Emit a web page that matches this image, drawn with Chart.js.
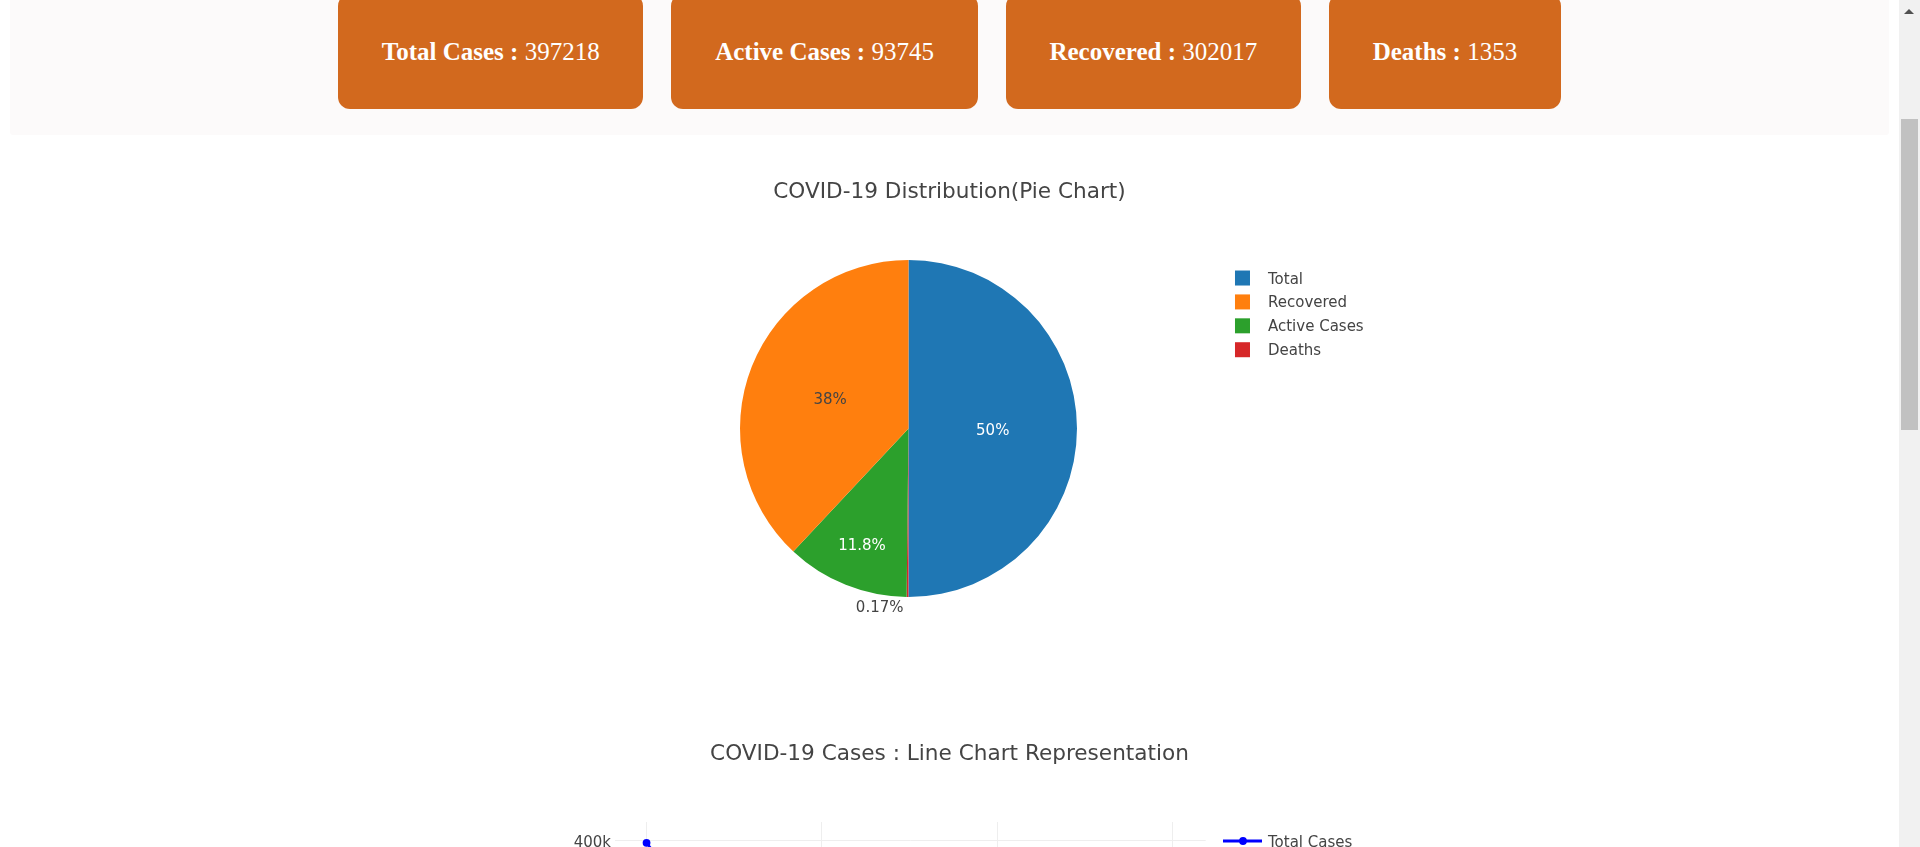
<!DOCTYPE html>
<html>
<head>
<meta charset="utf-8">
<title>COVID-19 Dashboard</title>
<script src="https://cdn.jsdelivr.net/npm/chart.js@4.4.0/dist/chart.umd.min.js"></script>
<style>
html, body { margin: 0; padding: 0; width: 1920px; height: 847px; overflow: hidden; background: #ffffff; }
#page { position: absolute; left: 0; top: 0; width: 1899px; height: 847px; overflow: hidden; background: #ffffff; }
#stats { position: absolute; left: 10px; top: 0; width: 1879px; height: 135px; background: #fcfafa; border-radius: 0 0 3px 3px; }
#boxes { position: absolute; left: 0; right: 0; top: -6.5px; display: flex; justify-content: center; gap: 28px; }
.box { box-sizing: border-box; height: 115px; padding: 2.4px 43.75px 0 43.75px; background: #d2691e; color: #ffffff; border-radius: 12px;
       display: flex; align-items: center; font-family: 'Liberation Serif', 'Times New Roman', serif; font-size: 25px; white-space: pre; }
canvas { position: absolute; display: block; }
#pie { left: 10px; top: 135px; }
#line { left: 10px; top: 697px; }
#sb { position: absolute; left: 1899px; top: 0; width: 21px; height: 847px; background: #f1f1f1; }
#thumb { position: absolute; left: 2px; top: 119px; width: 17px; height: 311px; background: #c1c1c1; }
#arrow { position: absolute; left: 5px; top: 9px; width: 0; height: 0; border-left: 5.5px solid transparent; border-right: 5.5px solid transparent; border-bottom: 5.5px solid #505050; }
</style>
</head>
<body>
<div id="page">
  <div id="stats"><div id="boxes"></div></div>
  <canvas id="pie" width="1879" height="560"></canvas>
  <canvas id="line" width="1879" height="563"></canvas>
</div>
<div id="sb"><div id="arrow"></div><div id="thumb"></div></div>
<script>
// ---------------- data ----------------
const statLabels = ['Total Cases', 'Active Cases', 'Recovered', 'Deaths'];
const statValues = [397218, 93745, 302017, 1353];

const pieCategories = ['Total', 'Recovered', 'Active Cases', 'Deaths'];
const pieValues = [397218, 302017, 93745, 1353];

const lineSeriesName = 'Total Cases';
const lineCategories = ['Total Cases', 'Active Cases', 'Recovered', 'Deaths'];
const lineValues = [397218, 93745, 302017, 1353];

const yTickValues = [0, 100000, 200000, 300000, 400000];

// ---------------- styles ----------------
const sliceColors = ['#1f77b4', '#ff7f0e', '#2ca02c', '#d62728'];
const pieDrawOrder = [0, 3, 2, 1];   // clockwise from 12 o'clock
const FONT = "'DejaVu Sans', Verdana, sans-serif";
const TEXT = '#444444';
const CAP_HALF = 5.5;               // half cap height of 15px text

Chart.defaults.font.family = FONT;
Chart.defaults.color = TEXT;

// ---------------- header boxes ----------------
const boxes = document.getElementById('boxes');
statLabels.forEach((lab, i) => {
  const d = document.createElement('div');
  d.className = 'box';
  const s = document.createElement('span');
  const b = document.createElement('b');
  b.textContent = lab + ' :';
  s.appendChild(b);
  s.appendChild(document.createTextNode(' ' + statValues[i]));
  d.appendChild(s);
  boxes.appendChild(d);
});

function isLight(hex) {
  const r = parseInt(hex.slice(1, 3), 16), g = parseInt(hex.slice(3, 5), 16), b = parseInt(hex.slice(5, 7), 16);
  return 0.299 * r + 0.587 * g + 0.114 * b > 128;
}

// ---------------- pie plugins ----------------
const sliceTextPlugin = {
  id: 'sliceText',
  afterDatasetsDraw(chart) {
    const ctx = chart.ctx;
    const meta = chart.getDatasetMeta(0);
    const ds = chart.data.datasets[0];
    const total = ds.data.reduce((a, b) => a + b, 0);
    ctx.save();
    ctx.font = '15px ' + FONT;
    ctx.textBaseline = 'alphabetic';
    meta.data.forEach((arc, i) => {
      const p = arc.getProps(['x', 'y', 'startAngle', 'endAngle', 'outerRadius'], true);
      const mid = (p.startAngle + p.endAngle) / 2;
      const span = p.endAngle - p.startAngle;
      const share = ds.data[i] / total;
      const txt = parseFloat((share * 100).toPrecision(3)) + '%';
      const dx = Math.cos(mid), dy = Math.sin(mid);
      if (share < 0.02) {
        const ax = p.x + dx * (p.outerRadius + 2);
        const ay = p.y + dy * (p.outerRadius + 2);
        ctx.fillStyle = TEXT;
        ctx.textAlign = dx <= 0 ? 'right' : 'left';
        ctx.fillText(txt, ax + (dx <= 0 ? -4 : 4), ay + (dy > 0 ? 7.5 : -7.5) + CAP_HALF);
      } else {
        const f = span >= Math.PI / 2 ? 0.5 : 0.74;
        ctx.fillStyle = isLight(ds.backgroundColor[i]) ? TEXT : '#ffffff';
        ctx.textAlign = 'center';
        ctx.fillText(txt, p.x + dx * p.outerRadius * f, p.y + dy * p.outerRadius * f + CAP_HALF + 0.5);
      }
    });
    ctx.restore();
  }
};

const pieLegendPlugin = {
  id: 'pieLegend',
  afterDraw(chart) {
    const { ctx, chartArea } = chart;
    const cx = (chartArea.left + chartArea.right) / 2;
    const r = Math.min(chartArea.width, chartArea.height) / 2;
    const x0 = cx + r + 158;
    let y = chartArea.top + 18;
    ctx.save();
    ctx.font = '15px ' + FONT;
    ctx.textAlign = 'left';
    ctx.textBaseline = 'alphabetic';
    pieCategories.forEach((name, i) => {
      ctx.fillStyle = sliceColors[i];
      ctx.fillRect(x0, y - 7.5, 15, 15);
      ctx.fillStyle = TEXT;
      ctx.fillText(name, x0 + 33, y + CAP_HALF);
      y += 23.9;
    });
    ctx.restore();
  }
};

new Chart(document.getElementById('pie'), {
  type: 'pie',
  data: {
    labels: pieDrawOrder.map(i => pieCategories[i]),
    datasets: [{
      data: pieDrawOrder.map(i => pieValues[i]),
      backgroundColor: pieDrawOrder.map(i => sliceColors[i]),
      borderWidth: 0,
      hoverBorderWidth: 0,
      offset: 0,
      hoverOffset: 0
    }]
  },
  options: {
    responsive: false,
    animation: false,
    events: [],
    layout: { padding: { bottom: 98 } },
    scales: {
      spacer: { type: 'linear', axis: 'y', position: 'right', display: false, afterFit: s => { s.width = 82; } }
    },
    plugins: {
      legend: { display: false },
      tooltip: { enabled: false },
      title: {
        display: true,
        text: 'COVID-19 Distribution(Pie Chart)',
        color: TEXT,
        font: { size: 21.6, weight: 'normal', family: FONT },
        padding: { top: 44.3, bottom: 54.8 }
      }
    }
  },
  plugins: [sliceTextPlugin, pieLegendPlugin]
});

// ---------------- line chart ----------------
const lineLegendPlugin = {
  id: 'lineLegend',
  afterDraw(chart) {
    const { ctx, chartArea } = chart;
    const ds = chart.data.datasets[0];
    const x0 = chartArea.right + 17.3;
    const y = chartArea.top + 19;
    ctx.save();
    ctx.strokeStyle = ds.borderColor;
    ctx.lineWidth = 3;
    ctx.beginPath();
    ctx.moveTo(x0, y);
    ctx.lineTo(x0 + 39, y);
    ctx.stroke();
    ctx.fillStyle = ds.borderColor;
    ctx.beginPath();
    ctx.arc(x0 + 20, y, 3.9, 0, Math.PI * 2);
    ctx.fill();
    ctx.font = '15px ' + FONT;
    ctx.fillStyle = TEXT;
    ctx.textAlign = 'left';
    ctx.textBaseline = 'alphabetic';
    ctx.fillText(ds.label, x0 + 45, y + CAP_HALF);
    ctx.restore();
  }
};

new Chart(document.getElementById('line'), {
  type: 'line',
  data: {
    datasets: [{
      label: lineSeriesName,
      data: lineValues.map((v, i) => ({ x: i, y: v })),
      borderColor: '#0000ff',
      backgroundColor: '#0000ff',
      borderWidth: 2.5,
      pointRadius: 3.9,
      pointBorderWidth: 0,
      pointBackgroundColor: '#0000ff',
      tension: 0,
      fill: false,
      xAxisID: 'x',
      yAxisID: 'y'
    }]
  },
  options: {
    responsive: false,
    animation: false,
    events: [],
    scales: {
      x: {
        type: 'linear', position: 'bottom', min: -0.18, max: 3.19,
        afterBuildTicks: s => { s.ticks = lineCategories.map((c, i) => ({ value: i })); },
        ticks: { callback: v => lineCategories[v], color: TEXT, font: { size: 15 }, maxRotation: 0 },
        grid: { color: '#eeeeee', drawTicks: false },
        border: { display: false },
        afterFit: s => { s.height = 100.5; }
      },
      y: {
        type: 'linear', position: 'left', min: -25000, max: 425000,
        afterBuildTicks: s => { s.ticks = yTickValues.map(v => ({ value: v })); },
        ticks: { callback: v => (v === 0 ? '0' : (v / 1000) + 'k'), color: TEXT, font: { size: 15 }, padding: 4, labelOffset: 2 },
        grid: { color: '#eeeeee', drawTicks: false },
        border: { display: false },
        afterFit: s => { s.width = 605; }
      },
      spacer: { type: 'linear', axis: 'y', position: 'right', display: false, afterFit: s => { s.width = 683.3; } }
    },
    plugins: {
      legend: { display: false },
      tooltip: { enabled: false },
      title: {
        display: true,
        text: 'COVID-19 Cases : Line Chart Representation',
        color: TEXT,
        font: { size: 21.6, weight: 'normal', family: FONT },
        padding: { top: 44.5, bottom: 54.6 }
      }
    }
  },
  plugins: [lineLegendPlugin]
});
</script>
</body>
</html>
